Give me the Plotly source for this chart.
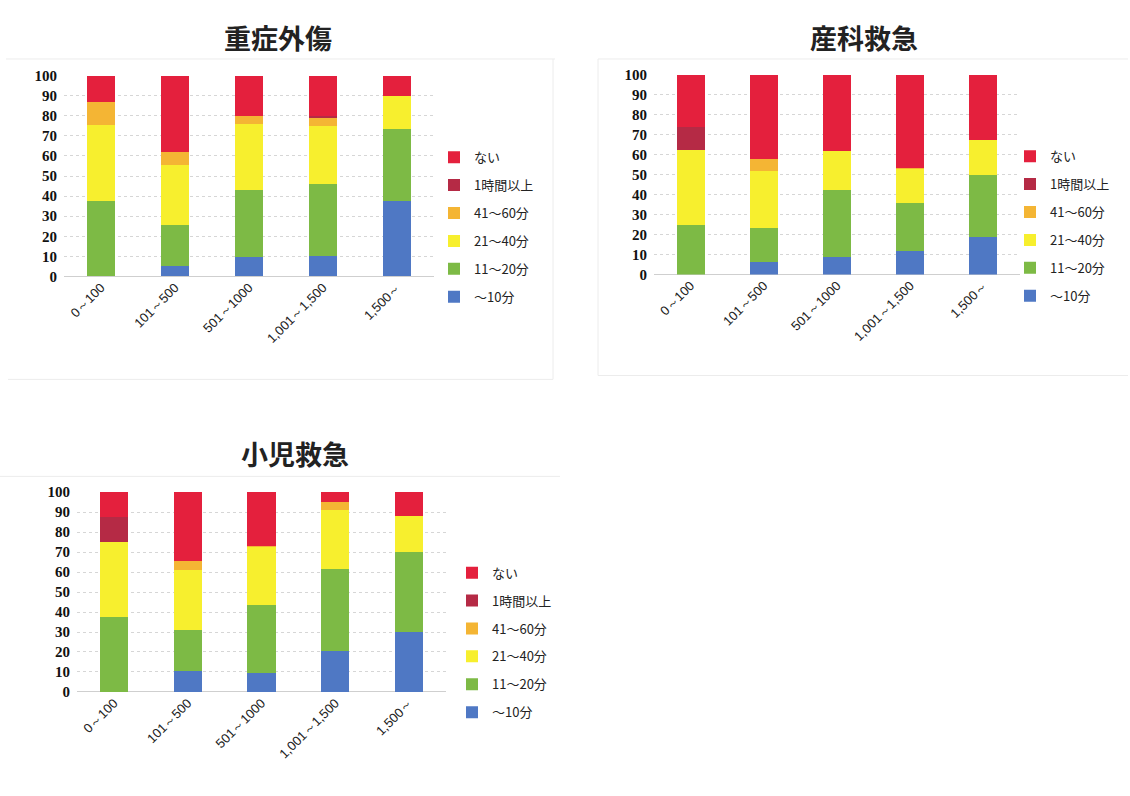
import plotly.graph_objects as go

W, H = 1130, 796

categories = ["0～100", "101～500", "501～1000", "1,001～1,500", "1,500～"]
series_names = ["～10分", "11～20分", "21～40分", "41～60分", "1時間以上", "ない"]
series_colors = ["#4F78C4", "#7DBA45", "#F7EF2E", "#F4B534", "#B52A45", "#E4203D"]

# 重症外傷
trauma_10 = [0, 5, 9.5, 10, 37.5]
trauma_20 = [37.5, 20.5, 33.5, 36, 36]
trauma_40 = [38, 30, 33, 29, 16.5]
trauma_60 = [11.5, 6.5, 4, 4, 0]
trauma_1h = [0, 0, 0, 1, 0]
trauma_none = [13, 38, 20, 20, 10]

# 産科救急
obst_10 = [0, 6.5, 9, 12, 19]
obst_20 = [25, 17, 33.5, 24, 31]
obst_40 = [37.5, 28.5, 19.5, 17, 17.5]
obst_60 = [0, 6, 0, 0.5, 0]
obst_1h = [11.5, 0, 0, 0, 0]
obst_none = [26, 42, 38, 46.5, 32.5]

# 小児救急
ped_10 = [0, 10.5, 9.5, 20.5, 30]
ped_20 = [37.5, 20.5, 34, 41, 40]
ped_40 = [37.5, 30, 29, 29.5, 18]
ped_60 = [0, 4.5, 0.5, 4, 0]
ped_1h = [12.5, 0, 0, 0, 0]
ped_none = [12.5, 34.5, 27, 5, 12]

titles = ["重症外傷", "産科救急", "小児救急"]
y_ticks = [0, 10, 20, 30, 40, 50, 60, 70, 80, 90, 100]

charts = [
    [trauma_10, trauma_20, trauma_40, trauma_60, trauma_1h, trauma_none],
    [obst_10, obst_20, obst_40, obst_60, obst_1h, obst_none],
    [ped_10, ped_20, ped_40, ped_60, ped_1h, ped_none],
]

# pixel geometry: (x_left, x_right, y_of_0, y_of_100)
plot_px = [(64, 434, 274, 69), (654, 1020, 272, 68), (77, 446, 698, 494)]
legend_px = [(434, 137), (1010, 136), (452, 561)]
title_px = [(278, 30), (864, 30), (295, 455)]

fig = go.Figure()

for ci, data in enumerate(charts):
    suffix = "" if ci == 0 else str(ci + 1)
    for si, vals in enumerate(data):
        fig.add_trace(go.Bar(
            x=categories, y=vals, name=series_names[si],
            marker=dict(color=series_colors[si], line=dict(width=0)),
            xaxis="x" + suffix, yaxis="y" + suffix,
            legend="legend" + suffix,
            legendgroup=f"g{ci}_{si}",
            legendrank=len(data) - si,
            hoverinfo="x+y+name",
        ))

layout = dict(
    width=W, height=H,
    margin=dict(l=0, r=0, t=0, b=0),
    paper_bgcolor="white", plot_bgcolor="white",
    barmode="stack", bargap=0.62,
    showlegend=True,
    annotations=[], shapes=[],
)

for ci in range(3):
    suffix = "" if ci == 0 else str(ci + 1)
    xl, xr, y0, y100 = plot_px[ci]
    layout["xaxis" + suffix] = dict(
        domain=[xl / W, xr / W], anchor="y" + suffix,
        tickangle=-45, tickfont=dict(family="Liberation Sans, Arial", size=13, color="#222"),
        showgrid=False, showline=False, ticks="", fixedrange=True,
    )
    layout["yaxis" + suffix] = dict(
        domain=[1 - y0 / H, 1 - y100 / H], anchor="x" + suffix,
        range=[0, 100], tickvals=y_ticks,
        tickfont=dict(family="Liberation Serif, Times New Roman", size=15, color="#111", weight="bold"),
        showgrid=True, gridcolor="#d6d6d6", gridwidth=1, griddash="dot",
        zeroline=True, zerolinecolor="#cfcfcf", zerolinewidth=1,
        showline=False, ticks="", ticklabelstandoff=6, fixedrange=True,
    )
    lx, ly = legend_px[ci]
    layout["legend" + suffix] = dict(
        x=lx / W, y=1 - ly / H, xanchor="left", yanchor="top",
        traceorder="grouped", tracegroupgap=8,
        font=dict(family="Noto Sans CJK JP", size=13, color="#222"),
        bgcolor="rgba(0,0,0,0)", itemwidth=30, itemclick=False, itemdoubleclick=False,
    )
    tx, ty = title_px[ci]
    layout["annotations"].append(dict(
        text=titles[ci], x=tx / W, y=1 - ty / H, xref="paper", yref="paper",
        xanchor="center", yanchor="middle", showarrow=False,
        font=dict(family="Noto Sans CJK JP", size=27, color="#222", weight="bold"),
    ))

# faint scanned chart frames
frame_lines = [
    (6, 52, 555, 52), (8, 379, 553, 379), (553, 52, 553, 379),
    (598, 52, 1128, 52), (598, 375, 1128, 375), (598, 52, 598, 375),
    (0, 478, 560, 478),
]
for x0, y0_, x1, y1_ in frame_lines:
    layout["shapes"].append(dict(
        type="line", xref="paper", yref="paper",
        x0=x0 / W, x1=x1 / W, y0=1 - y0_ / H, y1=1 - y1_ / H,
        line=dict(color="#ececec", width=1), layer="below",
    ))

fig.update_layout(**layout)
fig.write_html("out.html", config={"displayModeBar": False})
